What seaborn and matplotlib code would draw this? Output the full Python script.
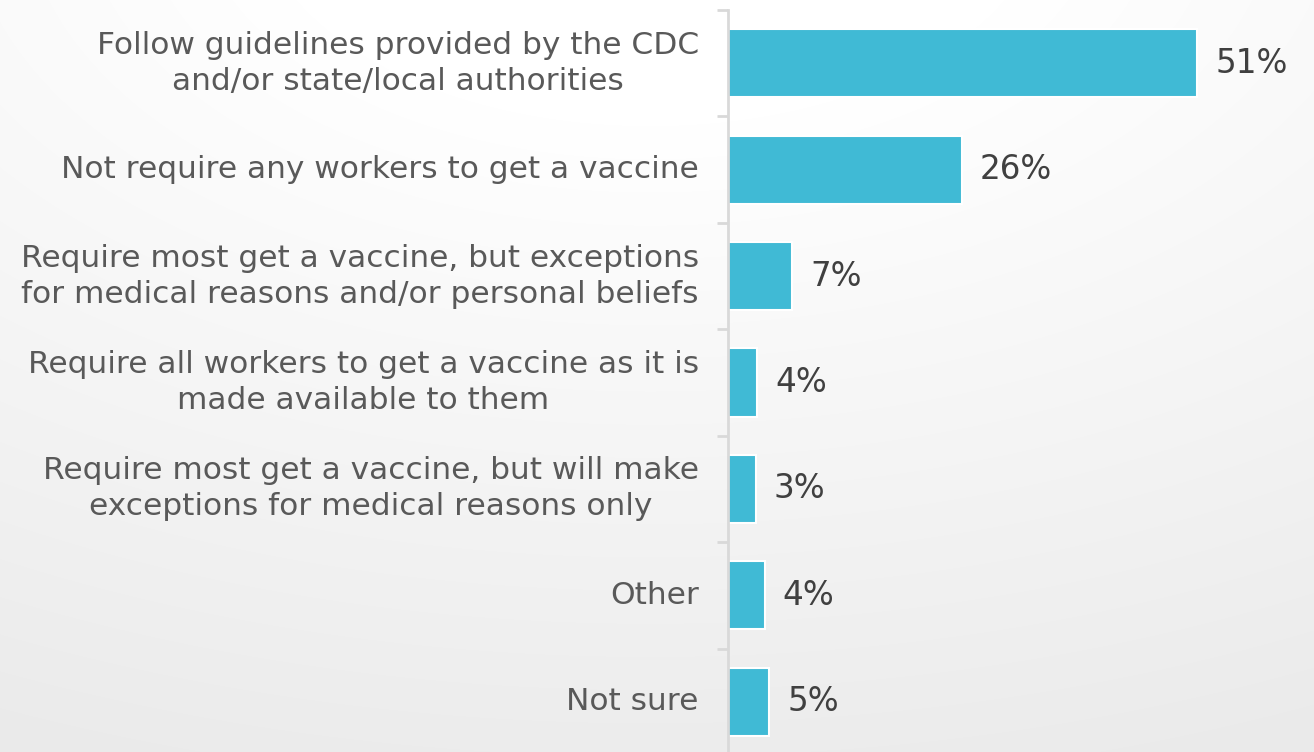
import numpy as np
import pandas as pd
import seaborn as sns
import matplotlib.pyplot as plt

categories = [
    'Follow guidelines provided by the CDC\nand/or state/local authorities',
    'Not require any workers to get a vaccine',
    'Require most get a vaccine, but exceptions\nfor medical reasons and/or personal beliefs',
    'Require all workers to get a vaccine as it is\nmade available to them',
    'Require most get a vaccine, but will make\nexceptions for medical reasons only',
    'Other',
    'Not sure',
]
values = [51, 25.4, 7, 3.2, 3, 4, 4.5]
value_labels = ['51%', '26%', '7%', '4%', '3%', '4%', '5%']

df = pd.DataFrame({'answer': categories, 'share': values})

sns.set_style('white')
plt.rcParams['font.family'] = ['DejaVu Sans']

W, H = 1314, 752
fig = plt.figure(figsize=(W / 100, H / 100), dpi=100)

# soft radial background
bg = fig.add_axes([0, 0, 1, 1], zorder=-1)
yy, xx = np.mgrid[0:H, 0:W]
r = np.hypot((xx - 650) / W, (yy + 100) / H)
r = np.clip((r - 0.3) / 0.9, 0, 1)
shade = 1.0 - 0.08 * r
bg.imshow(np.dstack([shade] * 3), aspect='auto', extent=[0, 1, 0, 1])
bg.axis('off')

ax = fig.add_axes([728 / W, -3 / H, 1 - 728 / W, 745 / H])
ax.set_facecolor('none')

sns.barplot(data=df, x='share', y='answer', orient='h', color='#40BAD5',
            saturation=1, width=0.64, edgecolor='white', linewidth=1.5, ax=ax)

ax.bar_label(ax.containers[0], labels=value_labels, padding=13,
             fontsize=23.5, color='#404040')

ax.set_xlim(0, (W - 728) / 9.2)
ax.set_ylim(6.5, -0.5)
ax.set_xlabel('')
ax.set_ylabel('')
ax.set_xticks([])

for s in ['top', 'right', 'bottom']:
    ax.spines[s].set_visible(False)
ax.spines['left'].set_color('#d9d9d9')
ax.spines['left'].set_linewidth(2)

ax.set_yticks(np.arange(-0.5, 7, 1), minor=True)
ax.tick_params(axis='y', which='minor', length=8, width=2, color='#d9d9d9',
               direction='out', left=True)
ax.tick_params(axis='y', which='major', length=0, pad=21, labelsize=22.5,
               labelcolor='#595959')
for t in ax.get_yticklabels():
    t.set_horizontalalignment('right')
    t.set_verticalalignment('center')
    t.set_multialignment('center')
    t.set_linespacing(1.3)

fig.savefig('out.png', dpi=100)
